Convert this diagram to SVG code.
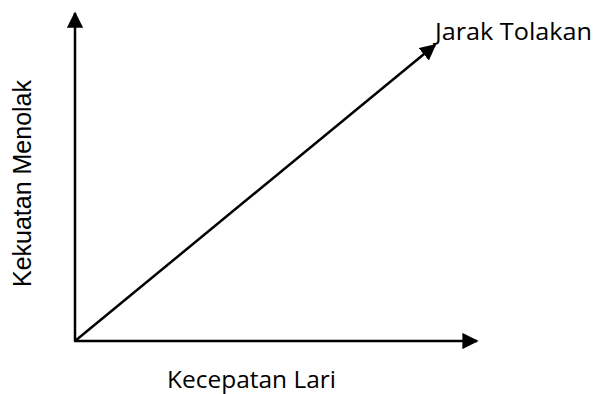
<svg xmlns="http://www.w3.org/2000/svg" width="599" height="394" viewBox="0 0 599 394">
<style>
.ax{stroke:#000;stroke-width:2.5;fill:none}
.t{font-family:"Open Sans","Noto Sans",sans-serif;font-size:23px;fill:#000}
.a{font-family:"Liberation Sans",Arial,sans-serif;font-size:25px;fill:#000}
</style>
<defs>
<marker id="ah" viewBox="0 0 10 10" refX="9" refY="5" markerWidth="6.5" markerHeight="6.5" markerUnits="strokeWidth" orient="auto">
<path d="M0,0 L10,5 L0,10 z" fill="#000"/>
</marker>
</defs>
<rect width="599" height="394" fill="#fff"/>
<g id="connectors">
<line class="ax" x1="75" y1="341" x2="75" y2="13" marker-end="url(#ah)"/>
<line class="ax" x1="74" y1="341" x2="477" y2="341" marker-end="url(#ah)"/>
<line class="ax" x1="75" y1="341" x2="435" y2="45" marker-end="url(#ah)"/>
</g>
<g id="label-y"><text class="a" transform="translate(31,287) rotate(-90)" textLength="207" lengthAdjust="spacingAndGlyphs">Kekuatan Menolak</text></g>
<g id="label-x"><text class="t" x="167" y="388" textLength="169" lengthAdjust="spacingAndGlyphs">Kecepatan Lari</text></g>
<g id="label-diag"><text class="t" x="435" y="40" textLength="157" lengthAdjust="spacingAndGlyphs">Jarak Tolakan</text></g>
</svg>
